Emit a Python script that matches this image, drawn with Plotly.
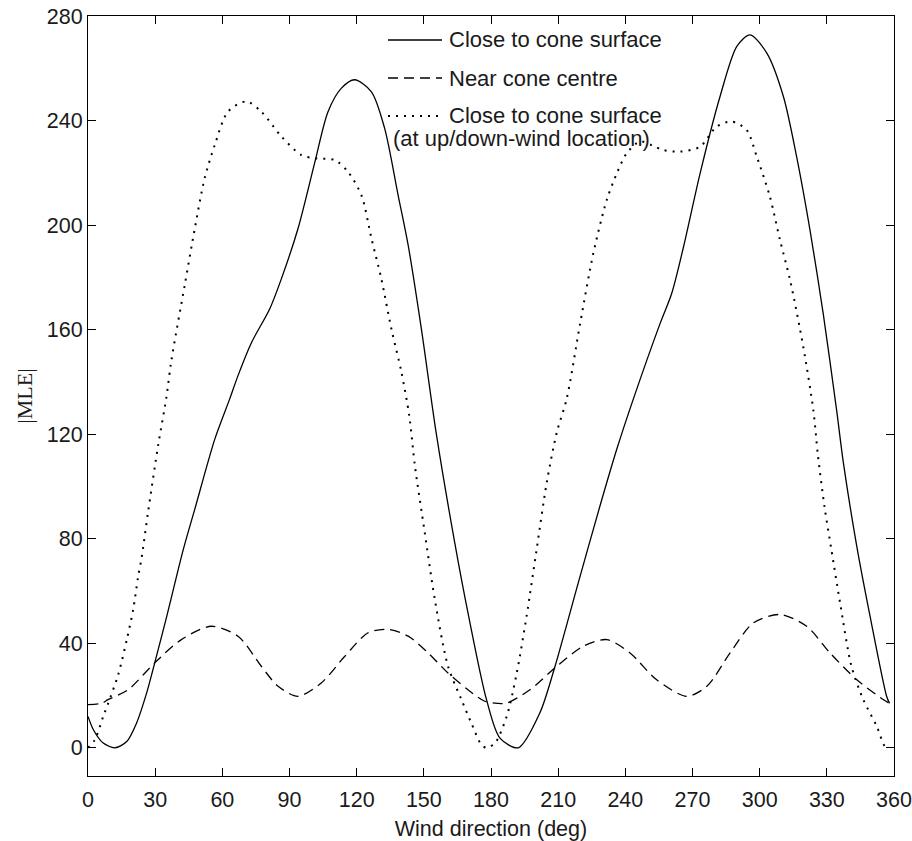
import plotly.graph_objects as go

# ---- data ----
surface_x = [0, 2.4, 6.8, 12, 17.3, 21.7, 26.2, 29.6, 35.2, 42.6, 47.7, 56.6, 63.3, 67, 73,
             81.2, 86.4, 93.8, 101.3, 107.2, 113.2, 119.1, 126.6, 132.5, 138.5, 143, 148.9,
             155.6, 163.8, 169.7, 178, 184, 192.2, 201.8, 208.6, 219, 228.7, 236.2, 243.6,
             255.5, 260.7, 266, 273.4, 282.3, 289.8, 295.7, 303.2, 310.6, 316.5, 322.5, 328.4,
             334.4, 337.4, 343.4, 349.3, 356.7, 358]
surface_y = [12, 6.9, 1.8, 0, 2.4, 9.5, 21, 31.8, 50.4, 76, 91.3, 118, 133.5, 142.4, 155,
             168, 179.5, 198.7, 224, 243.4, 252.4, 255.6, 251, 237, 211.5, 192.3, 160.3,
             120, 78.5, 51.7, 18.4, 3.7, 0, 13.3, 31.2, 63.2, 92.6, 114.3, 133.5,
             162.3, 173.8, 191.7, 219.8, 249.2, 268.4, 272.8, 265.8, 249.2, 226.2, 198, 166,
             129, 109, 77, 50.4, 19.7, 17]

centre_x = [0, 6, 8.9, 17.9, 29.8, 41.7, 55.1, 67, 77.4, 84.9, 93.8, 104.2, 114.7, 125.1, 134,
            143, 151.9, 160.8, 169.7, 177.2, 183, 187, 197.4, 209.4, 221.3, 231.7, 242.1, 254,
            267.4, 276.4, 286.8, 297.2, 309.1, 321, 331.4, 343.4, 355.3, 358]
centre_y = [16.5, 17, 18.4, 22.2, 32.5, 41.4, 46.5, 42.7, 31.2, 23.5, 19.7, 24.8, 35, 44, 45.3,
            42.7, 36.3, 28.6, 22.2, 17.8, 17, 17.1, 22.2, 31.2, 38.9, 41.4, 36.3, 26,
            19.7, 23.5, 36.3, 47.8, 51, 46.5, 36.3, 26, 18.4, 17]

updown_x = [0, 3, 6.8, 9, 13.5, 17.5, 20.2, 22.3, 24, 26.8, 31.3, 35, 37.2, 43.2, 47.7, 52.1,
            56.6, 62.5, 70.7, 77.4, 86.4, 95.3, 102, 110.2, 116.1, 122.1, 126.6, 131, 135.5,
            140, 143.5, 146, 150.4, 154.9, 160.8, 166.8, 171.2, 175.7, 178, 181.8, 187, 191.5,
            195.9, 200.4, 204.9, 209.4, 213.8, 219.8, 225.7, 231.7, 236.2, 240.6, 246.6, 252,
            257, 264.4, 273.4, 280.8, 287.5, 294.2, 298.7, 304.6, 309.1, 313.6, 319.5, 324,
            326, 329, 332, 336, 341, 346.3, 352.3, 356, 358]
updown_y = [0, 3, 12, 17, 28, 42, 53, 65, 73, 90, 115.6, 134, 148, 177, 198.7, 217.9,
            230.6, 243.4, 247.3, 243.4, 233.9, 226.8, 225.5, 224.9, 220.4, 211.5, 194.9, 179.5, 160.3,
            143.7, 127, 108, 82.4, 56.8, 31.2, 18.4, 9.5, 1.2, 0, 1.8, 12, 28.6,
            50.4, 76, 101.5, 120.7, 133.5, 162.3, 189.2, 209.6, 219.8, 227.5, 232, 230.5,
            228.7, 228.1, 230, 237.7, 239.6, 236.4, 226.2, 210.8, 194.2, 178.9, 153.3, 129,
            112, 92, 76, 55, 31.2, 18.4, 8.2, 0.5, 0]

series_names = ["Close to cone surface", "Near cone centre",
                "Close to cone surface", "(at up/down-wind location)"]

x_ticks = list(range(0, 361, 30))
y_ticks = list(range(0, 281, 40))

# ---- figure ----
FONT = "Liberation Sans, Arial, Helvetica, sans-serif"
INK = "#1a1a1a"

fig = go.Figure()
fig.add_trace(go.Scatter(x=surface_x, y=surface_y, mode="lines", name=series_names[0],
                         line=dict(color="black", width=1.3, shape="spline", smoothing=0.8),
                         showlegend=False))
fig.add_trace(go.Scatter(x=centre_x, y=centre_y, mode="lines", name=series_names[1],
                         line=dict(color="black", width=1.3, dash="10px,6px", shape="spline",
                                   smoothing=0.8),
                         showlegend=False))
fig.add_trace(go.Scatter(x=updown_x, y=updown_y, mode="lines",
                         name=series_names[2] + " " + series_names[3],
                         line=dict(color="black", width=2, dash="2px,6px", shape="spline",
                                   smoothing=0.8),
                         showlegend=False))

# manual legend (paper coordinates) to match the reference layout
def px_x(p):
    return (p - 88) / 806.0

def px_y(p):
    return (776 - p) / 760.0

legend_rows = [(40, "solid", 1.3, series_names[0]),
               (78, "10px,6px", 1.3, series_names[1]),
               (116, "2px,6px", 2, series_names[2])]
for row_y, dash, w, label in legend_rows:
    fig.add_shape(type="line", xref="paper", yref="paper",
                  x0=px_x(388), x1=px_x(442), y0=px_y(row_y), y1=px_y(row_y),
                  line=dict(color="black", width=w, dash=dash))
    fig.add_annotation(xref="paper", yref="paper", x=px_x(447), y=px_y(row_y),
                       xanchor="left", yanchor="middle", text=label, showarrow=False,
                       font=dict(family=FONT, size=22, color=INK))
fig.add_annotation(xref="paper", yref="paper", x=px_x(391), y=px_y(138),
                   xanchor="left", yanchor="middle", text=series_names[3], showarrow=False,
                   font=dict(family=FONT, size=22, color=INK))

axis_common = dict(showline=True, linecolor="black", linewidth=1, mirror="ticks",
                   ticks="inside", ticklen=8, tickcolor="black", tickwidth=1,
                   showgrid=False, zeroline=False, automargin=False,
                   tickfont=dict(family=FONT, size=21.5, color=INK))

fig.update_xaxes(range=[0, 360], tickmode="array", tickvals=x_ticks,
                 ticktext=[str(v) for v in x_ticks], ticklabelstandoff=4,
                 title=dict(text="Wind direction (deg)", standoff=12,
                            font=dict(family=FONT, size=21.5, color=INK)),
                 **axis_common)
fig.update_yaxes(range=[-10.8, 280], tickmode="array", tickvals=y_ticks,
                 ticktext=[str(v) for v in y_ticks],
                 title=dict(text="|MLE|", standoff=8,
                            font=dict(family="Liberation Serif, Times New Roman, serif",
                                      size=22, color=INK)),
                 **axis_common)

fig.update_layout(width=912, height=841, margin=dict(l=88, r=18, t=16, b=65),
                  paper_bgcolor="white", plot_bgcolor="white", showlegend=False)

fig.write_html("out.html",
               config={"displayModeBar": False, "staticPlot": True},
               post_script="document.body.style.margin='0';"
                           "document.body.style.overflow='hidden';"
                           "document.documentElement.style.overflow='hidden';")
